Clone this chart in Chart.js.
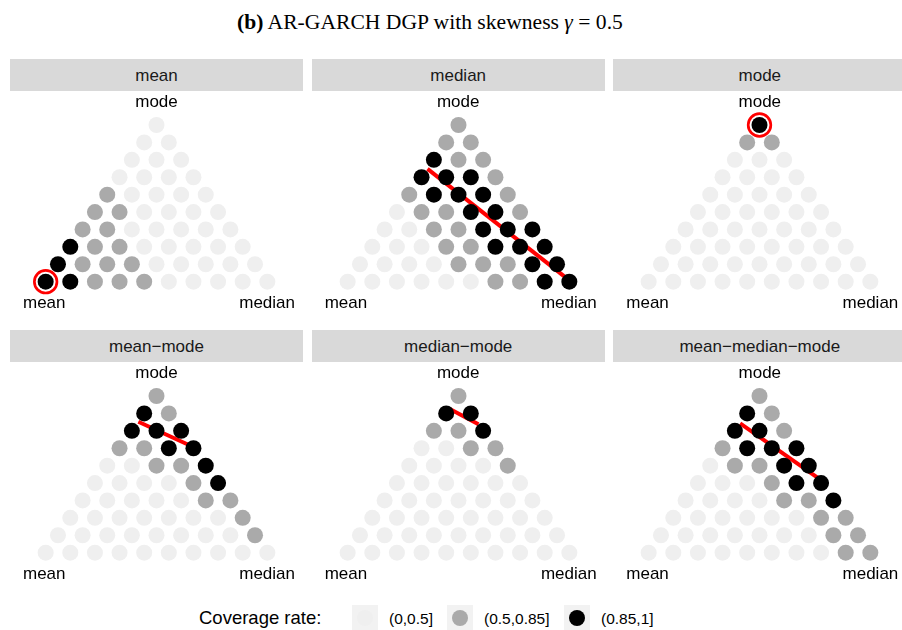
<!DOCTYPE html>
<html>
<head>
<meta charset="utf-8">
<script src="https://cdn.jsdelivr.net/npm/chart.js@4.4.1/dist/chart.umd.min.js"></script>
<style>
  html, body { margin: 0; padding: 0; background: #fff; }
  body { width: 902px; height: 630px; position: relative; overflow: hidden; font-family: "Liberation Sans", Arial, sans-serif; }
  .abs { position: absolute; white-space: nowrap; }
  .strip { position: absolute; background: #D9D9D9; color: #1A1A1A; font-size: 17px; text-align: center; }
  .lab { position: absolute; font-size: 17px; color: #000; line-height: 20px; }
  canvas { position: absolute; }
  #title { font-family: "Liberation Serif", "DejaVu Serif", serif; color: #000; }
</style>
</head>
<body>
<div id="title" class="abs"><b>(b)</b> AR-GARCH DGP with skewness <i>γ</i> = 0.5</div>
<div id="legend"></div>
<script>
// panel titles
const panels = ['mean', 'median', 'mode', 'mean\u2212mode', 'median\u2212mode', 'mean\u2212median\u2212mode'];
// corners of the triangle: bottom left, bottom right, top
const corners = ['mean', 'median', 'mode'];

// coverage classes
const levels = ['(0,0.5]', '(0.5,0.85]', '(0.85,1]'];
const levelCodes = ['l', 'm', 'h'];
const levelColors = ['#EFEFEF', '#AAAAAA', '#000000'];

// coverage per grid point, rows from top (mode corner) to bottom
const covMean = ['l', 'll', 'lll', 'llll', 'mllll', 'mmllll', 'mmlllll', 'hmmlllll', 'hmmmlllll', 'hhmmmlllll'];
const covMedian = ['m', 'mm', 'hmm', 'hhhm', 'mhhhm', 'lmmhhm', 'llmmhhh', 'lllmmhhh', 'llllmmmhh', 'llllllmmhh'];
const covMode = ['h', 'mm', 'lll', 'llll', 'lllll', 'llllll', 'lllllll', 'llllllll', 'lllllllll', 'llllllllll'];
const covMeanMode = ['m', 'hm', 'hhh', 'mmhh', 'llmmh', 'llllmh', 'lllllmm', 'lllllllm', 'llllllllm', 'llllllllll'];
const covMedianMode = ['m', 'hh', 'mmh', 'llmm', 'llllm', 'llllll', 'lllllll', 'llllllll', 'lllllllll', 'llllllllll'];
const covAll = ['m', 'hm', 'hhm', 'mhhh', 'lmmhh', 'lllmhh', 'llllmmh', 'llllllmm', 'lllllllmm', 'llllllllmm'];
const coverage = [covMean, covMedian, covMode, covMeanMode, covMedianMode, covAll];

// red segments, weights [mean, median, mode]
const redLines = [
  null,
  [[0.28, 0, 0.72], [0, 0.98, 0.02]],
  null,
  [[0.164, 0, 0.836], [0, 0.322, 0.678]],
  [[0.082, 0, 0.918], [0, 0.18, 0.82]],
  [[0.175, 0, 0.825], [0, 0.52, 0.48]]
];
// circled single forecasts
const redRings = [[1, 0, 0], null, [0, 0, 1], null, null, null];

// ternary weights -> plot coordinates (grid step = 1/9)
function tern(w) {
  return { x: w[1] * 9 + w[2] * 4.5, y: w[2] * 9 };
}

const colLeft = [10, 311.7, 613.3];
const rowTop = [59, 330];
const panelW = 293, stripH = 31.5, canvasH = 230;
const dx = 24.63, dy = 17.41;

panels.forEach(function (name, p) {
  let left = colLeft[p % 3];
  let top = rowTop[Math.floor(p / 3)];

  let strip = document.createElement('div');
  strip.className = 'strip';
  strip.style.cssText = `left:${left}px;top:${top}px;width:${panelW}px;height:${stripH}px;line-height:${stripH + 2}px;`;
  strip.textContent = name;
  document.body.appendChild(strip);

  let cv = document.createElement('canvas');
  cv.width = panelW; cv.height = canvasH;
  cv.style.cssText = `left:${left}px;top:${top + stripH + 0.5}px;width:${panelW}px;height:${canvasH}px;`;
  document.body.appendChild(cv);

  let labMode = document.createElement('div');
  labMode.className = 'lab';
  labMode.style.cssText = `left:${left}px;width:${panelW}px;text-align:center;top:${top + 32.5}px;`;
  labMode.textContent = corners[2];
  document.body.appendChild(labMode);

  let labMean = document.createElement('div');
  labMean.className = 'lab';
  labMean.style.cssText = `left:${left + 13}px;top:${top + 234}px;`;
  labMean.textContent = corners[0];
  document.body.appendChild(labMean);

  let labMed = document.createElement('div');
  labMed.className = 'lab';
  labMed.style.cssText = `left:${left}px;width:${panelW - 8}px;text-align:right;top:${top + 234}px;`;
  labMed.textContent = corners[1];
  document.body.appendChild(labMed);

  // points by coverage class
  let groups = levelCodes.map(() => []);
  coverage[p].forEach(function (row, r) {
    for (let k = 0; k < row.length; k++) {
      let w = [(r - k) / 9, k / 9, (9 - r) / 9];
      groups[levelCodes.indexOf(row[k])].push(tern(w));
    }
  });

  let datasets = groups.map(function (pts, i) {
    return {
      label: levels[i],
      data: pts,
      pointRadius: 8,
      pointBorderWidth: 0,
      pointBackgroundColor: levelColors[i],
      order: 0
    };
  });

  if (redRings[p]) {
    datasets.push({
      data: [tern(redRings[p])],
      pointRadius: 11.3,
      pointBorderWidth: 2.7,
      pointBorderColor: '#FF0000',
      pointBackgroundColor: '#FFFFFF',
      order: 1
    });
  }
  if (redLines[p]) {
    datasets.push({
      data: redLines[p].map(tern),
      showLine: true,
      borderColor: '#FF0000',
      borderWidth: 4,
      pointRadius: 0,
      order: 2
    });
  }

  let xmin = 4.5 - (panelW / 2) / dx;
  let ymax = 9 + 34 / dy;
  new Chart(cv.getContext('2d'), {
    type: 'scatter',
    data: { datasets: datasets },
    options: {
      responsive: false,
      animation: false,
      events: [],
      layout: { padding: 0, autoPadding: false },
      plugins: { legend: { display: false }, tooltip: { enabled: false } },
      scales: {
        x: { type: 'linear', display: false, min: xmin, max: xmin + panelW / dx },
        y: { type: 'linear', display: false, min: ymax - canvasH / dy, max: ymax }
      }
    }
  });
});

// legend
let legend = document.getElementById('legend');
let html = '<div class="abs" style="left:199px;top:605px;font-size:18.5px;line-height:26px;">Coverage rate:</div>';
let keyX = [352, 447, 564];
levels.forEach(function (lv, i) {
  html += `<div class="abs" style="left:${keyX[i]}px;top:605px;width:26px;height:26px;background:#F2F2F2;">` +
    `<div style="position:absolute;left:5px;top:5px;width:16px;height:16px;border-radius:50%;background:${levelColors[i]};"></div></div>`;
  html += `<div class="abs" style="left:${keyX[i] + 37}px;top:605px;font-size:15.5px;line-height:27px;">${lv}</div>`;
});
legend.innerHTML = html;

// title: fit to the width seen in the figure
let t = document.getElementById('title');
t.style.fontSize = '20px';
t.style.left = '237px';
let w = t.getBoundingClientRect().width;
let fs = 20 * 386 / w;
t.style.fontSize = fs + 'px';
t.style.top = (23 - fs * 0.62) + 'px';
</script>
</body>
</html>
